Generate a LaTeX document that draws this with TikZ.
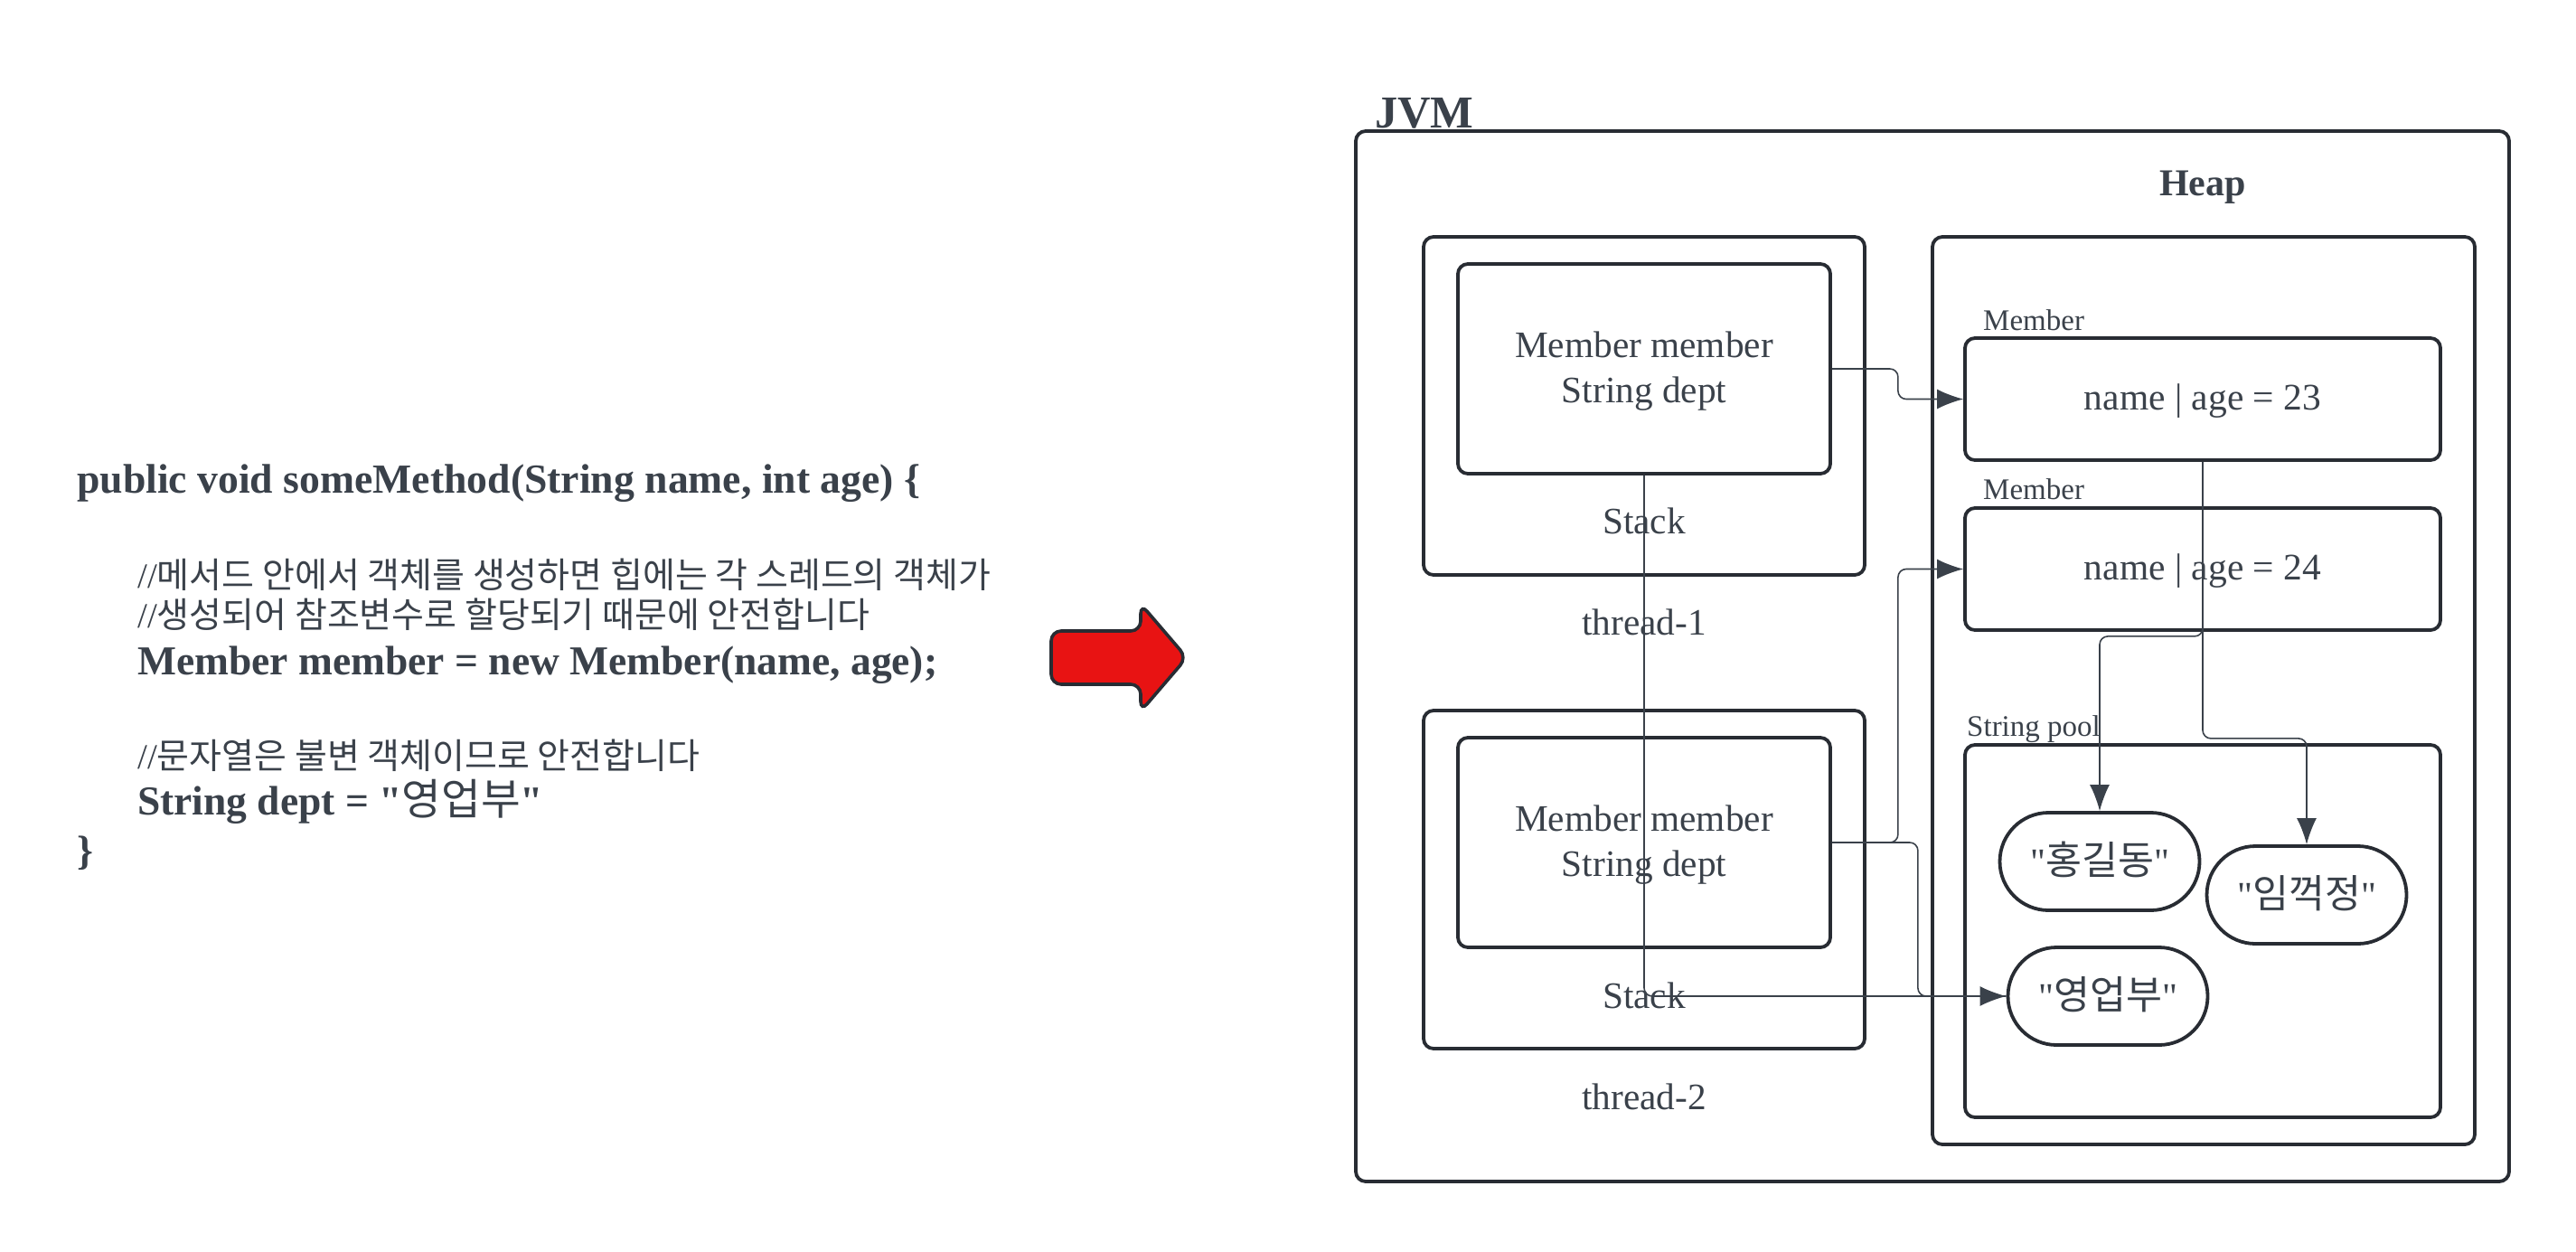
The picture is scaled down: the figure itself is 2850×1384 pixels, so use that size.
\documentclass[tikz,border=0pt]{standalone}
\usepackage{fontspec}
\setmainfont{Liberation Serif}[Ligatures=TeXOff]
\newfontfamily\krfont{Noto Sans CJK KR}
\usetikzlibrary{positioning}
\usetikzlibrary{arrows.meta}
\definecolor{inkline}{HTML}{282C33}
\definecolor{inktext}{HTML}{3A414A}
\definecolor{arrowred}{HTML}{E81313}
\newcommand{\kr}[1]{{\krfont #1}}
\newcommand{\krbig}[1]{{\krfont\fontsize{43.5}{50}\selectfont #1}}
\tikzset{
	boxthick/.style={draw=inkline, line width=3.8pt, rounded corners=11pt, inner sep=0pt, text=inktext},
	pill/.style={boxthick, minimum width=221pt, minimum height=108pt, rounded corners=53.9pt, text height=32pt, text depth=4pt, font=\fontsize{41.5}{50}\selectfont},
	objbox/.style={boxthick, minimum width=526pt, minimum height=135pt, text height=34pt, text depth=10pt, font=\fontsize{41.5}{50}\selectfont},
	label/.style={text=inktext, inner sep=0pt, font=\fontsize{41.3}{50}\selectfont},
	smalllabel/.style={text=inktext, inner sep=0pt, anchor=west, font=\fontsize{33}{40}\selectfont},
	codebold/.style={text=inktext, inner sep=0pt, anchor=base west, font=\fontsize{45.5}{50}\selectfont\bfseries},
	codenote/.style={text=inktext, inner sep=0pt, anchor=base west, font=\fontsize{39}{50}\selectfont},
	conn/.style={draw=inktext, line width=1.6pt, rounded corners=9pt, -{Latex[length=29pt, width=22pt]}},
	connplain/.style={draw=inktext, line width=1.6pt, rounded corners=9pt}
}
\begin{document}
\begin{tikzpicture}[x=1pt, y=-1pt]
	\useasboundingbox (0,0) rectangle (2850,1384);
	\node[codebold, font=\fontsize{45.7}{50}\selectfont\bfseries] (sigline) at (85,545) {public void someMethod(String name, int age) \{};
	\node[codenote] (noteA) at (152,650) {//\kr{메서드 안에서 객체를 생성하면 힙에는 각 스레드의 객체가}};
	\node[codenote] (noteB) at (152,694) {//\kr{생성되어 참조변수로 할당되기 때문에 안전합니다}};
	\node[codebold] (memberline) at (152,746) {Member member = new Member(name, age);};
	\node[codenote] (noteC) at (152,850) {//\kr{문자열은 불변 객체이므로 안전합니다}};
	\node[codebold] (deptline) at (152,901) {String dept = "{\krfont\mdseries\fontsize{47.5}{50}\selectfont 영업부}"};
	\node[codebold] (closeline) at (85,956) {\}};
	\draw[draw=inkline, fill=arrowred, line width=3.6pt, rounded corners=11pt] (1163,698)--(1262,698)--(1262,668)--(1313,727.5)--(1262,787)--(1262,757)--(1163,757)--cycle;
	\node[boxthick, minimum width=1276pt, minimum height=1162pt] (jvm) at (2138,726) {};
	\node[text=inktext, inner sep=0pt, anchor=base west, font=\fontsize{50.5}{50}\selectfont\bfseries] (jvmlabel) at (1521,141) {JVM};
	\node[boxthick, minimum width=488pt, minimum height=374pt] (stackA) at (1819,449) {};
	\node[boxthick, minimum width=412pt, minimum height=232pt] (innerA) at (1819,408) {};
	\node[label, align=center] (innerAtext) at (1819,411) {Member member\\String dept};
	\node[label] (stackAlabel) at (1819,576) {Stack};
	\node[label] (threadA) at (1819,688) {thread-1};
	\node[boxthick, minimum width=488pt, minimum height=374pt] (stackB) at (1819,973) {};
	\node[boxthick, minimum width=412pt, minimum height=232pt] (innerB) at (1819,932) {};
	\node[label, align=center] (innerBtext) at (1819,935) {Member member\\String dept};
	\node[label] (stackBlabel) at (1819,1101) {Stack};
	\node[label] (threadB) at (1819,1213) {thread-2};
	\node[boxthick, minimum width=600pt, minimum height=1004pt] (heap) at (2438,764) {};
	\node[label, font=\fontsize{42}{50}\selectfont\bfseries] (heaplabel) at (2437,207) {Heap};
	\node[objbox] (memberA) at (2437,441.5) {name | age = 23};
	\node[smalllabel] (memberAlabel) at (2194,354) {Member};
	\node[objbox] (memberB) at (2437,629.5) {name | age = 24};
	\node[smalllabel] (memberBlabel) at (2194,541) {Member};
	\node[boxthick, minimum width=526pt, minimum height=412pt] (pool) at (2437,1030) {};
	\node[smalllabel] (poollabel) at (2176,807) {String pool};
	\node[pill] (strHong) at (2323,953) {"\krbig{홍길동}"};
	\node[pill] (strLim) at (2552,990) {"\krbig{임꺽정}"};
	\node[pill] (strDept) at (2332,1102) {"\krbig{영업부}"};
	\draw[conn] (innerA.east) -- ++(73,0) |- (memberA.west);
	\draw[conn] (innerB.east) -- ++(73,0) |- (memberB.west);
	\draw[connplain] (innerB.east) -- ++(95,0) |- (strDept.west);
	\draw[conn] (innerA.south) |- (strDept.west);
	\draw[conn] (memberA.south) -- ++(0,193) -| (strHong.north);
	\draw[conn] (memberA.south) -- ++(0,306) -| (strLim.north);
\end{tikzpicture}
\end{document}
